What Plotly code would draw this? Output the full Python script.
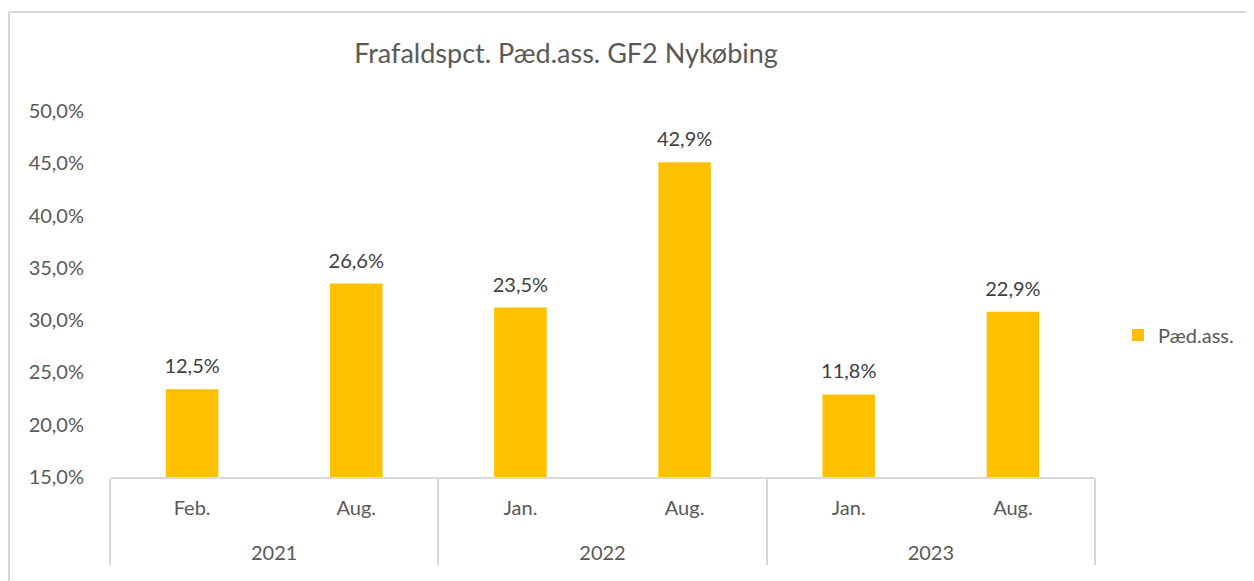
import plotly.graph_objects as go

# ---- data ----
years = ["2021", "2021", "2022", "2022", "2023", "2023"]
# a zero-width space keeps the later "Aug." after "Jan." in Plotly's multicategory ordering
months = ["Feb.", "Aug.", "Jan.", "Aug.\u200b", "Jan.", "Aug.\u200b"]
bar_heights = [23.4, 33.5, 31.2, 45.1, 22.9, 30.8]      # bar tops as read on the axis (%)
label_values = [12.5, 26.6, 23.5, 42.9, 11.8, 22.9]     # printed data labels (%)
series_name = "Pæd.ass."
title_text = "Frafaldspct. Pæd.ass. GF2 Nykøbing"
y_min, y_max, y_step = 15.0, 50.0, 5.0
bar_base = 14.5

OFF = 8  # page body margin
W, H = 1254 - OFF, 581 - OFF
ML, MR, MT, MB = 102, 159, 103, 104
PW, PH = W - ML - MR, H - MT - MB

def px_x(x):
    return (x - ML) / PW

def px_y(y):
    return (H - MB - y) / PH

FONT = "Lato"
label_txt = [f"{v:.1f}".replace(".", ",") + "%" for v in label_values]
year_txt = ["\u00a0<br>" + y for y in years]
pad_sp = "<span style='font-size:24px'>\u00a0</span>"
month_txt = [pad_sp + m + pad_sp for m in months]

fig = go.Figure()
fig.add_trace(go.Bar(
    x=[year_txt, month_txt],
    y=[h - bar_base for h in bar_heights],
    base=bar_base,
    name=series_name,
    marker=dict(color="#FFC000", line=dict(width=0)),
    cliponaxis=False,
    hoverinfo="skip",
))
fig.add_trace(go.Scatter(
    x=[year_txt, month_txt],
    y=bar_heights,
    mode="markers+text",
    text=label_txt,
    textposition="top center",
    textfont=dict(family=FONT, size=20, color="#404040"),
    marker=dict(size=16, opacity=0),
    showlegend=False,
    cliponaxis=False,
    hoverinfo="skip",
))

shapes = [
    dict(type="line", xref="paper", yref="paper",
         x0=px_x(1), x1=px_x(1), y0=px_y(H + 5), y1=px_y(4),
         line=dict(color="#d9d9d9", width=2)),
    dict(type="line", xref="paper", yref="paper",
         x0=px_x(1), x1=px_x(W + 5), y0=px_y(4), y1=px_y(4),
         line=dict(color="#d9d9d9", width=2)),
]

fig.update_layout(
    width=W, height=H,
    margin=dict(l=ML, r=MR, t=MT, b=MB, autoexpand=False),
    paper_bgcolor="white", plot_bgcolor="white",
    separators=",.",
    bargap=0.68,
    showlegend=True,
    title=dict(text=title_text, x=px_x(558), xref="paper", xanchor="center",
               y=1 - 46 / H, yref="container", yanchor="middle",
               font=dict(family=FONT, size=27, color="#595959")),
    legend=dict(x=px_x(1110), y=px_y(327), xanchor="left", yanchor="middle",
                font=dict(family=FONT, size=20, color="#595959"),
                bgcolor="rgba(0,0,0,0)", itemwidth=30),
    xaxis=dict(type="multicategory", showline=True, linecolor="#d9d9d9", linewidth=2,
               showdividers=True, dividercolor="#d9d9d9", dividerwidth=2,
               ticks="", ticklabelstandoff=12,
               tickfont=dict(family=FONT, size=20, color="#595959"),
               showgrid=False, zeroline=False, range=[-0.5, 5.5]),
    yaxis=dict(range=[y_min, y_max], dtick=y_step, tick0=y_min,
               tickformat=".1f", ticksuffix="%", showgrid=False, zeroline=False,
               showline=False, ticklabelstandoff=25,
               tickfont=dict(family=FONT, size=20, color="#595959")),
    shapes=shapes,
    font=dict(family=FONT),
)

fig.write_html("out.html")
